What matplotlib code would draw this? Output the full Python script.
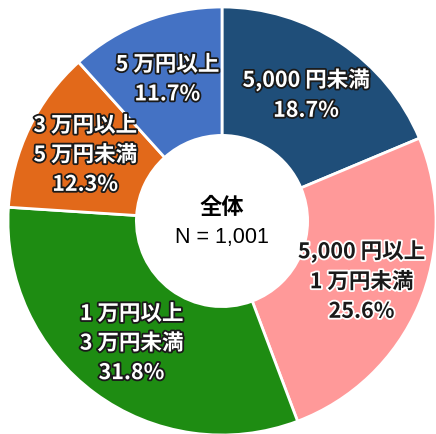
import numpy as np
import matplotlib
matplotlib.use("Agg")
import matplotlib.pyplot as plt
import matplotlib.patheffects as pe

plt.rcParams['font.family'] = ['Noto Sans CJK JP', 'DejaVu Sans']

categories = ["5,000 円未満", "5,000 円以上\n1 万円未満", "1 万円以上\n3 万円未満",
              "3 万円以上\n5 万円未満", "5 万円以上"]
shares = [18.7, 25.6, 31.8, 12.3, 11.7]
colors = ["#1F4E79", "#FF9999", "#1E8C12", "#E2691A", "#4472C4"]
text_dark = [False, True, False, False, False]

fig = plt.figure(figsize=(4.36, 4.34), dpi=100)
ax = fig.add_axes([0, 0, 1, 1])

wedges, _ = ax.pie(shares, colors=colors, startangle=90, counterclock=False,
                   radius=1.0,
                   wedgeprops=dict(width=0.6, edgecolor="white", linewidth=2))

for w, cat, v, dark in zip(wedges, categories, shares, text_dark):
    ang = np.deg2rad((w.theta1 + w.theta2) / 2)
    r = 0.71
    x, y = r * np.cos(ang), r * np.sin(ang)
    if dark:
        fc, ec = "#1a1a1a", "white"
    else:
        fc, ec = "white", "#1a1a1a"
    ax.text(x, y, f"{cat}\n{v:.1f}%", ha="center", va="center",
            fontsize=15.5, fontweight="bold", color=fc, linespacing=1.5,
            path_effects=[pe.withStroke(linewidth=2.6, foreground=ec)])

ax.text(0, 0.065, "全体", ha="center", va="center", fontsize=16,
        fontweight="bold", color="black")
ax.text(0, -0.075, "N = 1,001", ha="center", va="center", fontsize=15.5,
        family=["Liberation Sans", "DejaVu Sans"], color="black")

ax.set_xlim(-222 / 214, (436 - 222) / 214)
ax.set_ylim(-213 / 214, (434 - 213) / 214)
ax.set_aspect("auto")
ax.axis("off")

fig.savefig("out.png", dpi=100, facecolor="white")
